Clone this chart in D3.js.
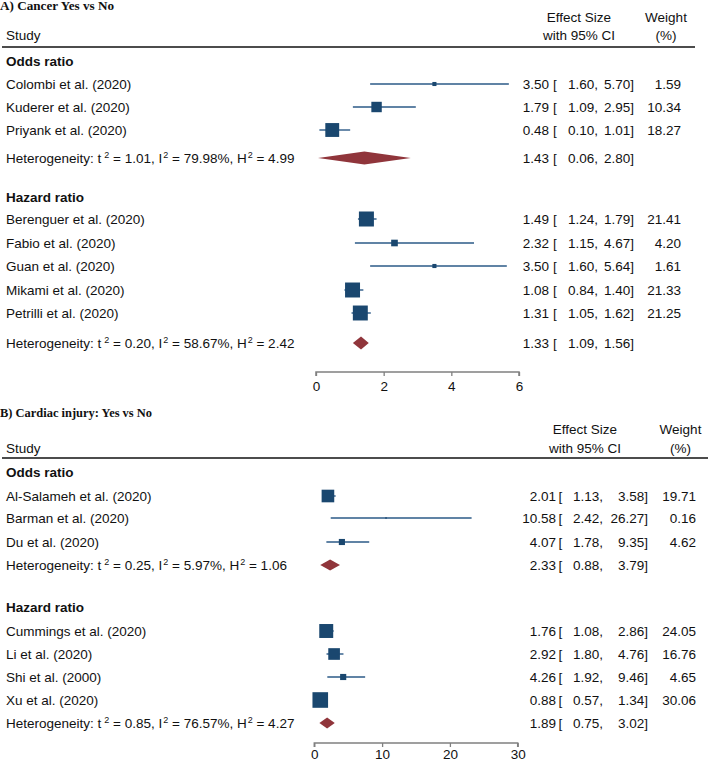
<!DOCTYPE html>
<html><head><meta charset="utf-8">
<script src="https://cdn.jsdelivr.net/npm/d3@7"></script>
<style>
body{margin:0;background:#fff}
svg{display:block}
text{font-family:"Liberation Sans",Arial,sans-serif;fill:#111;font-size:13.5px}
</style>
</head><body><svg id="c" width="708" height="762"></svg>
<script>
// ---------------- Panel A data ----------------
const aTitle = "A) Cancer Yes vs No";
const groupNames = ["Odds ratio", "Hazard ratio"];
const aOrStudy = ["Colombi et al. (2020)", "Kuderer et al. (2020)", "Priyank et al. (2020)"];
const aOrEst = [3.50, 1.79, 0.48];
const aOrLo = [1.60, 1.09, 0.10];
const aOrHi = [5.70, 2.95, 1.01];
const aOrWeight = [1.59, 10.34, 18.27];
const aOrPooled = [1.43, 0.06, 2.80];
const aOrHet = ["1.01", "79.98%", "4.99"];
const aHrStudy = ["Berenguer et al. (2020)", "Fabio et al. (2020)", "Guan et al. (2020)", "Mikami et al. (2020)", "Petrilli et al. (2020)"];
const aHrEst = [1.49, 2.32, 3.50, 1.08, 1.31];
const aHrLo = [1.24, 1.15, 1.60, 0.84, 1.05];
const aHrHi = [1.79, 4.67, 5.64, 1.40, 1.62];
const aHrWeight = [21.41, 4.20, 1.61, 21.33, 21.25];
const aHrPooled = [1.33, 1.09, 1.56];
const aHrHet = ["0.20", "58.67%", "2.42"];
const aTicks = [0, 2, 4, 6];

// ---------------- Panel B data ----------------
const bTitle = "B) Cardiac injury: Yes vs No";
const bOrStudy = ["Al-Salameh et al. (2020)", "Barman et al. (2020)", "Du et al. (2020)"];
const bOrEst = [2.01, 10.58, 4.07];
const bOrLo = [1.13, 2.42, 1.78];
const bOrHi = [3.58, 26.27, 9.35];
// upper whisker ends as drawn in the figure (shorter than the printed limits)
const bOrHiDrawn = [3.15, 23.2, 8.1];
const bOrWeight = [19.71, 0.16, 4.62];
const bOrPooled = [2.33, 0.88, 3.79];
const bOrHet = ["0.25", "5.97%", "1.06"];
const bHrStudy = ["Cummings et al. (2020)", "Li et al. (2020)", "Shi et al. (2000)", "Xu et al. (2020)"];
const bHrEst = [1.76, 2.92, 4.26, 0.88];
const bHrLo = [1.08, 1.80, 1.92, 0.57];
const bHrHi = [2.86, 4.76, 9.46, 1.34];
const bHrHiDrawn = [2.86, 4.3, 7.5, 1.34];
const bHrWeight = [24.05, 16.76, 4.65, 30.06];
const bHrPooled = [1.89, 0.75, 3.02];
const bHrHet = ["0.85", "76.57%", "4.27"];
const bTicks = [0, 10, 20, 30];

// ---------------- drawing ----------------
const svg = d3.select("#c");
const BLUE = "#1a476f", LINE = "#2b5a87", RED = "#90353b";
const f2 = d3.format(".2f");

function buildGroup(study, est, lo, hi, hiDrawn, w, pooled, het) {
  return {
    studies: study.map((s, i) => ({name: s, est: est[i], lo: lo[i], hi: hi[i], hiD: hiDrawn[i], w: w[i]})),
    pooled: {est: pooled[0], lo: pooled[1], hi: pooled[2]},
    het: het
  };
}

function drawPanel(p) {
  const g = svg.append("g");
  const x = d3.scaleLinear().domain(p.domain).range(p.xRange);
  const allW = p.groups.flatMap(gr => gr.studies.map(s => s.w));
  const box = d3.scaleSqrt().domain([0, d3.max(allW)]).range([0, p.maxBox]);

  // title
  g.append("text").attr("x", 0).attr("y", p.titleY)
    .style("font-family", '"Liberation Serif","Times New Roman",serif')
    .style("font-weight", "bold").style("font-size", "12.5px")
    .attr("textLength", p.titleW).attr("lengthAdjust", "spacingAndGlyphs")
    .text(p.title);

  // headers
  g.append("text").attr("x", 6).attr("y", p.headY2).attr("dy", "0.36em").text("Study");
  g.append("text").attr("x", p.esCenter).attr("y", p.headY1).attr("dy", "0.36em").attr("text-anchor", "middle").text("Effect Size");
  g.append("text").attr("x", p.esCenter).attr("y", p.headY2).attr("dy", "0.36em").attr("text-anchor", "middle").text("with 95% CI");
  g.append("text").attr("x", p.wCenter).attr("y", p.headY1).attr("dy", "0.36em").attr("text-anchor", "middle").text("Weight");
  g.append("text").attr("x", p.wCenter).attr("y", p.headY2).attr("dy", "0.36em").attr("text-anchor", "middle").text("(%)");
  g.append("line").attr("x1", 2).attr("x2", p.ruleX2).attr("y1", p.ruleY).attr("y2", p.ruleY)
    .attr("stroke", "#111").attr("stroke-width", 1.5);

  function ciText(y, est, lo, hi, w) {
    g.append("text").attr("x", p.estRight).attr("y", y).attr("dy", "0.36em").attr("text-anchor", "end").text(f2(est));
    g.append("text").attr("x", p.bracketX).attr("y", y).attr("dy", "0.36em").text("[");
    g.append("text").attr("x", p.loRight).attr("y", y).attr("dy", "0.36em").attr("text-anchor", "end").text(f2(lo) + ",");
    g.append("text").attr("x", p.hiRight).attr("y", y).attr("dy", "0.36em").attr("text-anchor", "end").text(f2(hi) + "]");
    if (w != null) g.append("text").attr("x", p.wRight).attr("y", y).attr("dy", "0.36em").attr("text-anchor", "end").text(f2(w));
  }

  p.groups.forEach((gr, gi) => {
    const L = p.layout[gi];
    g.append("text").attr("x", 6).attr("y", L.head).attr("dy", "0.36em")
      .style("font-weight", "bold").text(groupNames[gi]);
    gr.studies.forEach((s, i) => {
      const y = L.rows[i];
      g.append("text").attr("x", 6).attr("y", y).attr("dy", "0.36em").text(s.name);
      g.append("line").attr("x1", x(s.lo)).attr("x2", x(s.hiD)).attr("y1", y).attr("y2", y)
        .attr("stroke", LINE).attr("stroke-width", 1.4);
      const b = Math.max(box(s.w), 1.5);
      g.append("rect").attr("x", x(s.est) - b / 2).attr("y", y - b / 2).attr("width", b).attr("height", b)
        .attr("fill", BLUE);
      ciText(y, s.est, s.lo, s.hi, s.w);
    });
    // heterogeneity
    const hy = L.het;
    const t = g.append("text").attr("x", 6).attr("y", hy).attr("dy", "0.36em");
    const parts = [["Heterogeneity: t", gr.het[0]], ["I", gr.het[1]], ["H", gr.het[2]]];
    parts.forEach((pt, k) => {
      t.append("tspan").text((k === 0 ? "" : ", ") + pt[0]);
      t.append("tspan").attr("dx", k === 0 ? 3 : 1).attr("dy", -5).style("font-size", "9px").text("2");
      t.append("tspan").attr("dy", 5).text(" = " + pt[1]);
    });
    const d = gr.pooled, hh = p.diamondH / 2;
    g.append("path")
      .attr("d", `M${x(d.lo)},${hy}L${x(d.est)},${hy - hh}L${x(d.hi)},${hy}L${x(d.est)},${hy + hh}Z`)
      .attr("fill", RED);
    ciText(hy, d.est, d.lo, d.hi, null);
  });

  // axis
  const ax = g.append("g").attr("transform", `translate(0,${p.axisY})`)
    .call(d3.axisBottom(x).tickValues(p.ticks).tickSize(4).tickPadding(p.tickPad).tickFormat(d3.format("d")));
  ax.select(".domain").attr("stroke", "#808080").attr("stroke-width", 1.5).attr("d", `M${x.range()[0]},4V0H${x.range()[1]}V4`);
  ax.selectAll(".tick line").attr("stroke", "#808080").attr("stroke-width", 1.3);
  ax.selectAll(".tick text").style("font-size", "13.5px").style("font-family", '"Liberation Sans",Arial,sans-serif').attr("fill", "#111");
}

drawPanel({
  title: aTitle, titleY: 10, titleW: 114,
  headY1: 17, headY2: 35, ruleY: 47, ruleX2: 695,
  esCenter: 579, wCenter: 666,
  estRight: 549, bracketX: 553, loRight: 598, hiRight: 634, wRight: 681,
  domain: [0, 6], xRange: [316, 519], ticks: aTicks, axisY: 372, tickPad: 5,
  maxBox: 15, diamondH: 13,
  groups: [
    buildGroup(aOrStudy, aOrEst, aOrLo, aOrHi, aOrHi, aOrWeight, aOrPooled, aOrHet),
    buildGroup(aHrStudy, aHrEst, aHrLo, aHrHi, aHrHi, aHrWeight, aHrPooled, aHrHet)
  ],
  layout: [
    {head: 61, rows: [84, 107, 130], het: 158},
    {head: 197, rows: [219, 243, 266, 290, 313], het: 343}
  ]
});

drawPanel({
  title: bTitle, titleY: 416.5, titleW: 152,
  headY1: 429, headY2: 448, ruleY: 458, ruleX2: 708,
  esCenter: 585, wCenter: 680.5,
  estRight: 556, bracketX: 558.5, loRight: 603, hiRight: 648, wRight: 696,
  domain: [0, 30], xRange: [314.3, 517.7], ticks: bTicks, axisY: 743, tickPad: 2,
  maxBox: 15.6, diamondH: 11,
  groups: [
    buildGroup(bOrStudy, bOrEst, bOrLo, bOrHi, bOrHiDrawn, bOrWeight, bOrPooled, bOrHet),
    buildGroup(bHrStudy, bHrEst, bHrLo, bHrHi, bHrHiDrawn, bHrWeight, bHrPooled, bHrHet)
  ],
  layout: [
    {head: 472, rows: [496, 518, 542], het: 565},
    {head: 607, rows: [631, 654, 677, 700], het: 723}
  ]
});
</script></body></html>
